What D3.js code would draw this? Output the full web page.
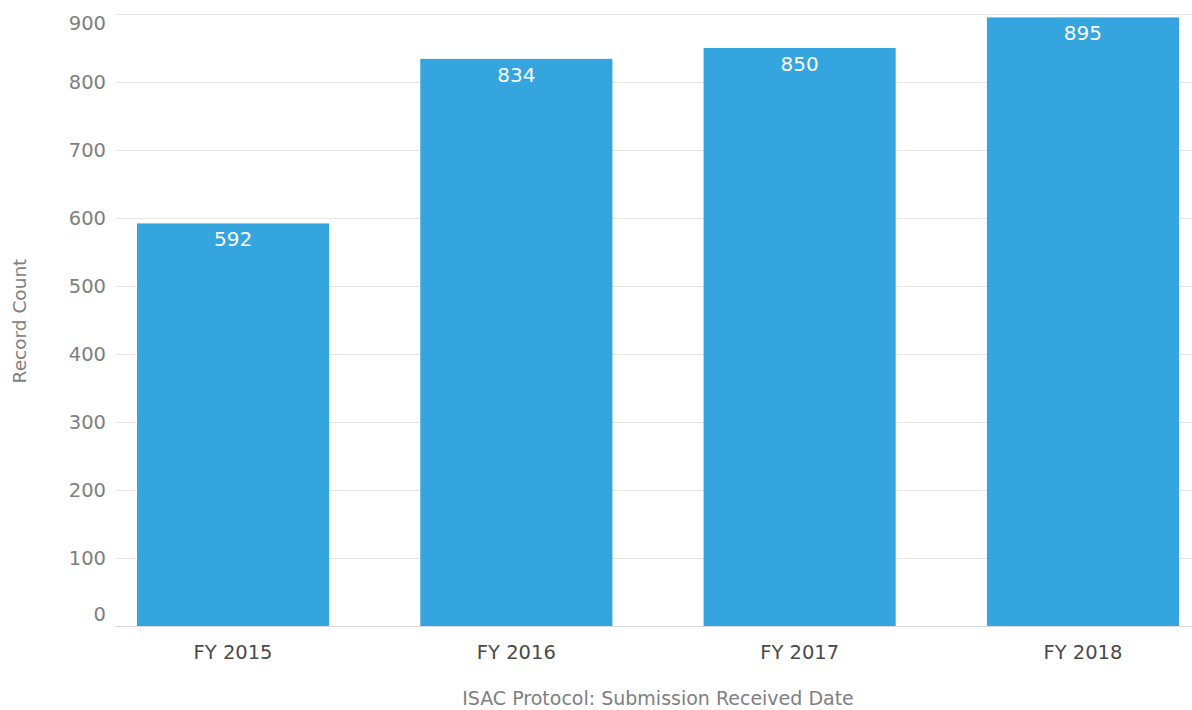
<!DOCTYPE html>
<html>
<head>
<meta charset="utf-8">
<script src="https://cdn.jsdelivr.net/npm/d3@7"></script>
<style>
  html, body { margin: 0; padding: 0; background: #fff; }
  svg { display: block; font-family: "DejaVu Sans", "Open Sans", sans-serif; }
</style>
</head>
<body>
<svg id="chart" width="1192" height="710"></svg>
<script>
// Record counts per fiscal year
const categories = ["FY 2015", "FY 2016", "FY 2017", "FY 2018"];
const recordCounts = [592, 834, 850, 895];
const yTicks = [0, 100, 200, 300, 400, 500, 600, 700, 800, 900];

const svg = d3.select("#chart");
const plotLeft = 115, plotRight = 1192;
const yTop = 14, yBottom = 626;

const x = d3.scaleBand()
  .domain(categories)
  .range([91.4, 1224.6])
  .paddingInner(0.322)
  .paddingOuter(0.161);

const y = d3.scaleLinear().domain([0, 900]).range([yBottom, yTop]);

// gridlines
svg.append("g")
  .selectAll("line")
  .data(yTicks)
  .join("line")
  .attr("x1", plotLeft).attr("x2", plotRight)
  .attr("y1", d => y(d) + 0.5).attr("y2", d => y(d) + 0.5)
  .attr("stroke", d => d === 0 ? "#d9d9d9" : "#e6e6e6")
  .attr("stroke-width", 1.2);

// y tick labels (kept inside the plot at both ends)
svg.append("g")
  .selectAll("text")
  .data(yTicks)
  .join("text")
  .attr("x", 106)
  .attr("y", d => Math.min(Math.max(y(d), 23), 614))
  .attr("dy", "0.36em")
  .attr("text-anchor", "end")
  .attr("fill", "#808080")
  .attr("font-size", 19.5)
  .text(d => d);

// bars
svg.append("g")
  .selectAll("rect")
  .data(recordCounts)
  .join("rect")
  .attr("x", (d, i) => x(categories[i]))
  .attr("width", x.bandwidth())
  .attr("y", d => y(d))
  .attr("height", d => y(0) - y(d))
  .attr("fill", "#34a5de");

// value labels
svg.append("g")
  .selectAll("text")
  .data(recordCounts)
  .join("text")
  .attr("x", (d, i) => x(categories[i]) + x.bandwidth() / 2)
  .attr("y", d => y(d) + 23)
  .attr("text-anchor", "middle")
  .attr("fill", "#ffffff")
  .attr("font-size", 20)
  .text(d => d);

// category labels
svg.append("g")
  .selectAll("text")
  .data(categories)
  .join("text")
  .attr("x", d => x(d) + x.bandwidth() / 2)
  .attr("y", 659)
  .attr("text-anchor", "middle")
  .attr("fill", "#4a4a4a")
  .attr("font-size", 19.5)
  .text(d => d);

// axis titles
svg.append("text")
  .attr("x", 658).attr("y", 705)
  .attr("text-anchor", "middle")
  .attr("fill", "#808080")
  .attr("font-size", 19)
  .text("ISAC Protocol: Submission Received Date");

svg.append("text")
  .attr("transform", "translate(19,321) rotate(-90)")
  .attr("dy", "0.36em")
  .attr("text-anchor", "middle")
  .attr("fill", "#808080")
  .attr("font-size", 18.5)
  .text("Record Count");
</script>
</body>
</html>
